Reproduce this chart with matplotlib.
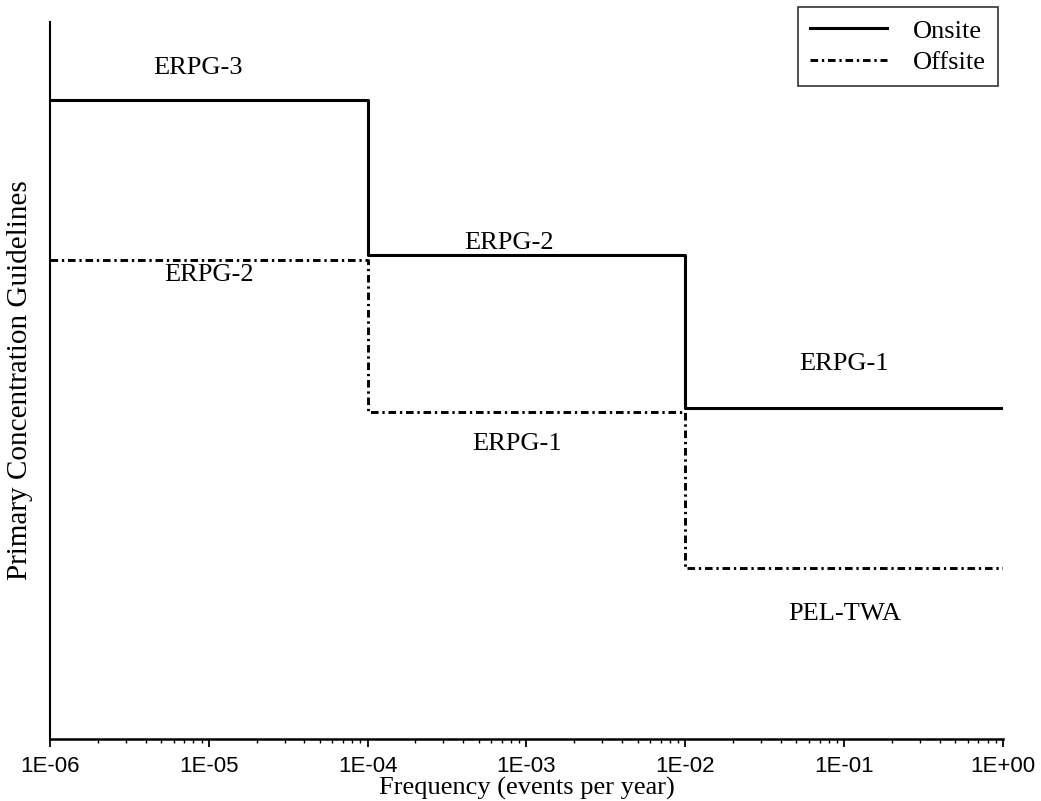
import matplotlib
matplotlib.use("Agg")
import matplotlib.pyplot as plt
from matplotlib.ticker import FixedLocator, LogLocator, NullFormatter
import numpy as np

# step edges (frequency, events per year)
edges = [1e-6, 1e-4, 1e-2, 1e0]
# relative concentration levels (arbitrary units, no y scale on the chart)
onsite = [89.1, 67.5, 46.2]
offsite = [66.8, 45.6, 23.8]

tick_vals = [1e-6, 1e-5, 1e-4, 1e-3, 1e-2, 1e-1, 1e0]
tick_labels = ["1E-06", "1E-05", "1E-04", "1E-03", "1E-02", "1E-01", "1E+00"]

label_text = ["ERPG-3", "ERPG-2", "ERPG-2", "ERPG-1", "ERPG-1", "PEL-TWA"]
label_x = [8.5e-6, 7.8e-4, 1.0e-5, 0.1, 8.7e-4, 0.1]
label_y = [93.6, 69.2, 64.7, 52.3, 41.1, 17.4]

serif = "Liberation Serif"

fig = plt.figure(figsize=(10.41, 8.01), dpi=100)
ax = fig.add_axes([0.048, 0.0774, 0.9155, 0.895])

on_y = onsite + [onsite[-1]]
off_y = offsite + [offsite[-1]]
ax.step(edges, on_y, where="post", color="black", lw=2.2, label="Onsite")
ax.step(edges, off_y, where="post", color="black", lw=2.1,
        linestyle=(0, (2.6, 1.3, 0.8, 1.3)), label="Offsite")

for t, x, y in zip(label_text, label_x, label_y):
    ax.text(x, y, t, ha="center", va="center", fontsize=19, family=serif)

ax.set_xscale("log")
ax.set_xlim(1e-6, 1e0)
ax.set_ylim(0, 100)
ax.xaxis.set_major_locator(FixedLocator(tick_vals))
ax.set_xticklabels(tick_labels, family="Liberation Sans", fontsize=16)
ax.xaxis.set_minor_locator(LogLocator(base=10, subs=np.arange(2, 10)))
ax.xaxis.set_minor_formatter(NullFormatter())
ax.tick_params(axis="x", which="major", direction="out", length=6, width=1.3, pad=6)
ax.tick_params(axis="x", which="minor", direction="out", length=3, width=1.0)
ax.set_yticks([])

for s in ["top", "right"]:
    ax.spines[s].set_visible(False)
ax.spines["left"].set_linewidth(1.5)
ax.spines["bottom"].set_linewidth(1.8)

ax.set_xlabel("Frequency (events per year)", family=serif, fontsize=19, labelpad=0)
ax.set_ylabel("Primary Concentration Guidelines", family=serif, fontsize=21, labelpad=12)

leg = ax.legend(loc="upper right", bbox_to_anchor=(0.9587, 0.991), bbox_transform=fig.transFigure,
                prop={"family": serif, "size": 19}, fancybox=False, edgecolor="black",
                handlelength=2.9, handletextpad=1.0, borderpad=0.45, labelspacing=0.3,
                borderaxespad=0)
leg.get_frame().set_linewidth(1.2)

fig.savefig("out.png", dpi=100)
